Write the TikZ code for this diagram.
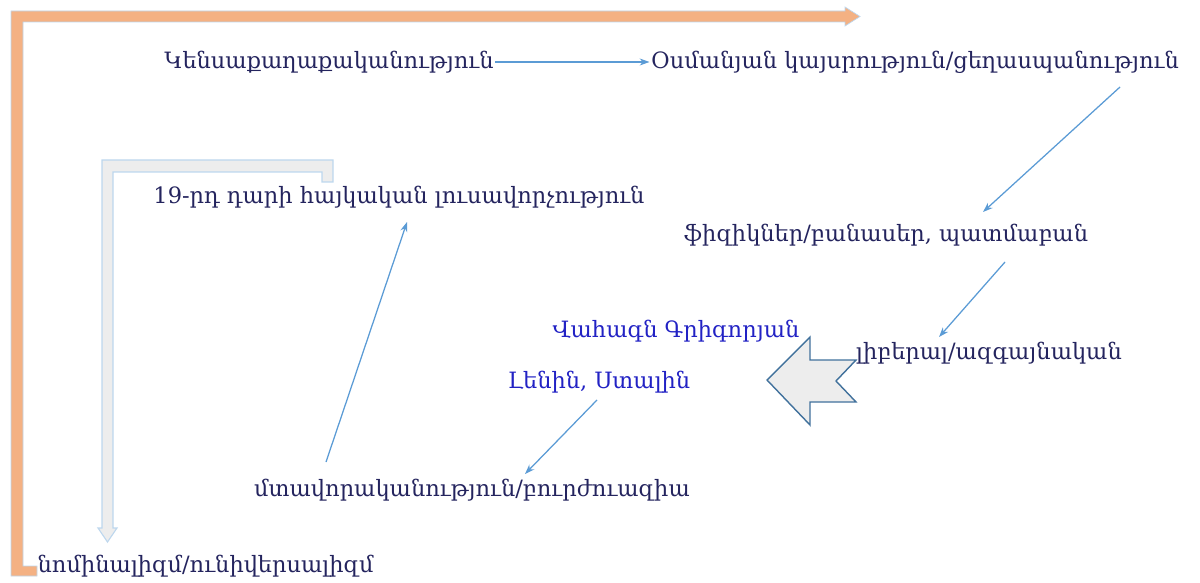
\documentclass[tikz,border=0pt]{standalone}
\usepackage{fontspec}
\setmainfont{DejaVu Serif}
\usetikzlibrary{arrows.meta, calc}
\definecolor{armNavy}{HTML}{24245E}
\definecolor{armBlue}{HTML}{2222C4}
\definecolor{armLink}{HTML}{5B9BD5}
\definecolor{armOrange}{HTML}{F4B183}
\definecolor{armPale}{HTML}{EDEDED}
\definecolor{armEdge}{HTML}{BDD7EE}
\definecolor{armSteel}{HTML}{41719C}

\begin{document}
\begin{tikzpicture}[
        x=0.025cm, y=-0.025cm,
        font=\fontsize{16}{19}\selectfont,
        term/.style={inner sep=1pt, text=armNavy},
        person/.style={term, text=armBlue},
        link/.style={draw=armLink, line width=0.9pt, -{Stealth[length=7pt, width=5pt]}},
        band/.style={fill=armOrange, draw=armEdge, line width=0.5pt},
        bent/.style={fill=armPale, draw=armEdge, line width=0.8pt},
        notch/.style={fill=armPale, draw=armSteel, line width=1pt, line join=miter}
    ]
        \useasboundingbox (0,0) rectangle (1200,583);

        % --- Frame arrows ---
        \draw[band] (11,576) -- (11,11) -- (845,11) -- (845,7) -- (860,16.5) -- (845,26)
            -- (845,22) -- (23,22) -- (23,566) -- (37,566) -- (37,576) -- cycle;
        \draw[bent] (322,182) -- (322,172) -- (113,172) -- (113,528) -- (117,528)
            -- (107.5,542) -- (98,528) -- (102,528) -- (102,160) -- (333,160) -- (333,182) -- cycle;
        \draw[notch] (767,380) -- (810,337) -- (810,360) -- (856,360) -- (836,381)
            -- (856,402) -- (810,402) -- (810,425) -- cycle;

        % --- Terms ---
        \node[term] (bio)     at (329,62)  {Կենսաքաղաքականություն};
        \node[term] (osm)     at (915,62)  {Օսմանյան կայսրություն/ցեղասպանություն};
        \node[term] (phys)    at (886,235) {ֆիզիկներ/բանասեր, պատմաբան};
        \node[term] (lib)     at (989,353) {լիբերալ/ազգայնական};
        \node[person] (vahagn) at (676,331) {Վահագն Գրիգորյան};
        \node[person] (lenin)  at (599,382) {Լենին, Ստալին};
        \node[term] (enlight) at (399,197) {19-րդ դարի հայկական լուսավորչություն};
        \node[term] (intel)   at (472,490) {մտավորականություն/բուրժուազիա};
        \node[term, anchor=west] (nomin) at (36,566) {նոմինալիզմ/ունիվերսալիզմ};

        % --- Links ---
        \draw[link] (bio.east) -- (osm.west);
        \draw[link] ($(osm)+(205,25)$) -- ($(phys)+(97,-23)$);
        \draw[link] ($(phys)+(119,27)$) -- ($(lib)+(-50,-16)$);
        \draw[link] ($(lenin)+(-2,18)$) -- ($(intel)+(53,-16)$);
        \draw[link] ($(intel)+(-146,-28)$) -- ($(enlight)+(8,25)$);
    \end{tikzpicture}
\end{document}
